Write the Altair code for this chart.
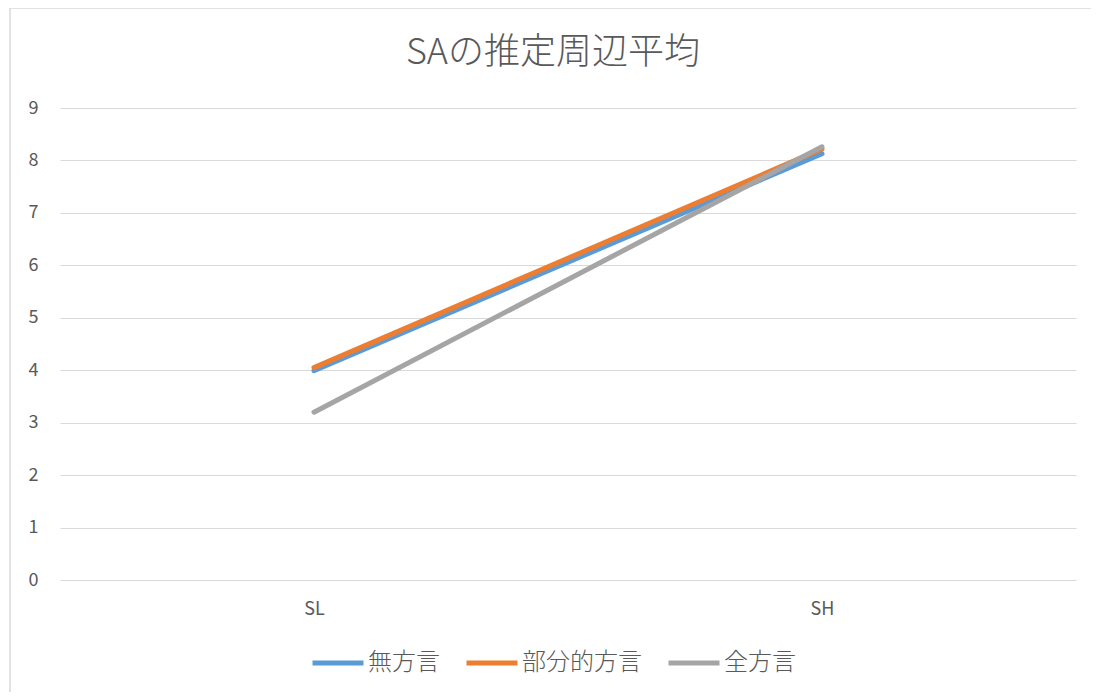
import altair as alt
import pandas as pd

categories = ["SL", "SH"]
series = ["無方言", "部分的方言", "全方言"]
values = {
    "無方言": [3.99, 8.13],
    "部分的方言": [4.05, 8.22],
    "全方言": [3.20, 8.26],
}
colors = ["#5B9BD5", "#ED7D31", "#A5A5A5"]
y_ticks = list(range(0, 10))
title_text = "SAの推定周辺平均"

rows = []
for s in series:
    for c, v in zip(categories, values[s]):
        rows.append({"cat": c, "series": s, "value": v})
df = pd.DataFrame(rows)

FONT = "Noto Sans CJK JP"

lines = alt.Chart(df).mark_line(strokeWidth=5, strokeCap="round").encode(
    x=alt.X("cat:N", sort=categories, title=None,
            scale=alt.Scale(padding=0.5),
            axis=alt.Axis(labelAngle=0, labelFontSize=18, labelColor="#595959",
                          labelFont=FONT, domain=False, ticks=False, labelPadding=20)),
    y=alt.Y("value:Q", title=None,
            scale=alt.Scale(domain=[0, 9], nice=False),
            axis=alt.Axis(values=y_ticks, labelFontSize=18, labelColor="#595959",
                          labelFont=FONT, domain=False, ticks=False, labelPadding=22,
                          gridColor="#D9D9D9", gridWidth=1)),
    color=alt.Color("series:N", sort=series,
                    scale=alt.Scale(domain=series, range=colors),
                    legend=alt.Legend(title=None, orient="none", direction="horizontal",
                                      legendX=250, legendY=527,
                                      symbolType="stroke", symbolSize=2600,
                                      symbolStrokeWidth=5, labelFontSize=24,
                                      labelColor="#595959", labelFont=FONT,
                                      labelFontWeight=300,
                                      columnPadding=16, labelOffset=2)),
    order=alt.Order("series_order:Q"),
).transform_calculate(
    series_order="indexof(['無方言','部分的方言','全方言'], datum.series)"
)

border = alt.Chart(pd.DataFrame({"a": [0]})).mark_rect(
    fill="transparent", stroke="#D9D9D9", strokeWidth=1.5, clip=False
).encode(
    x=alt.value(-50), x2=alt.value(1095), y=alt.value(-100), y2=alt.value(700)
)

title = alt.Chart(pd.DataFrame({"t": [title_text]})).mark_text(
    fontSize=36, font=FONT, fontWeight=300, color="#595959",
    align="center", baseline="middle", clip=False
).encode(
    text="t:N", x=alt.value(493), y=alt.value(-55)
)

chart = alt.layer(border, lines, title).properties(
    width=1016,
    height=472,
    autosize=alt.AutoSizeParams(type="none"),
    padding={"left": 52, "top": 100, "right": 15, "bottom": 112},
).configure_view(stroke=None)

chart.save("out.html", embed_options={"renderer": "svg", "actions": False})
